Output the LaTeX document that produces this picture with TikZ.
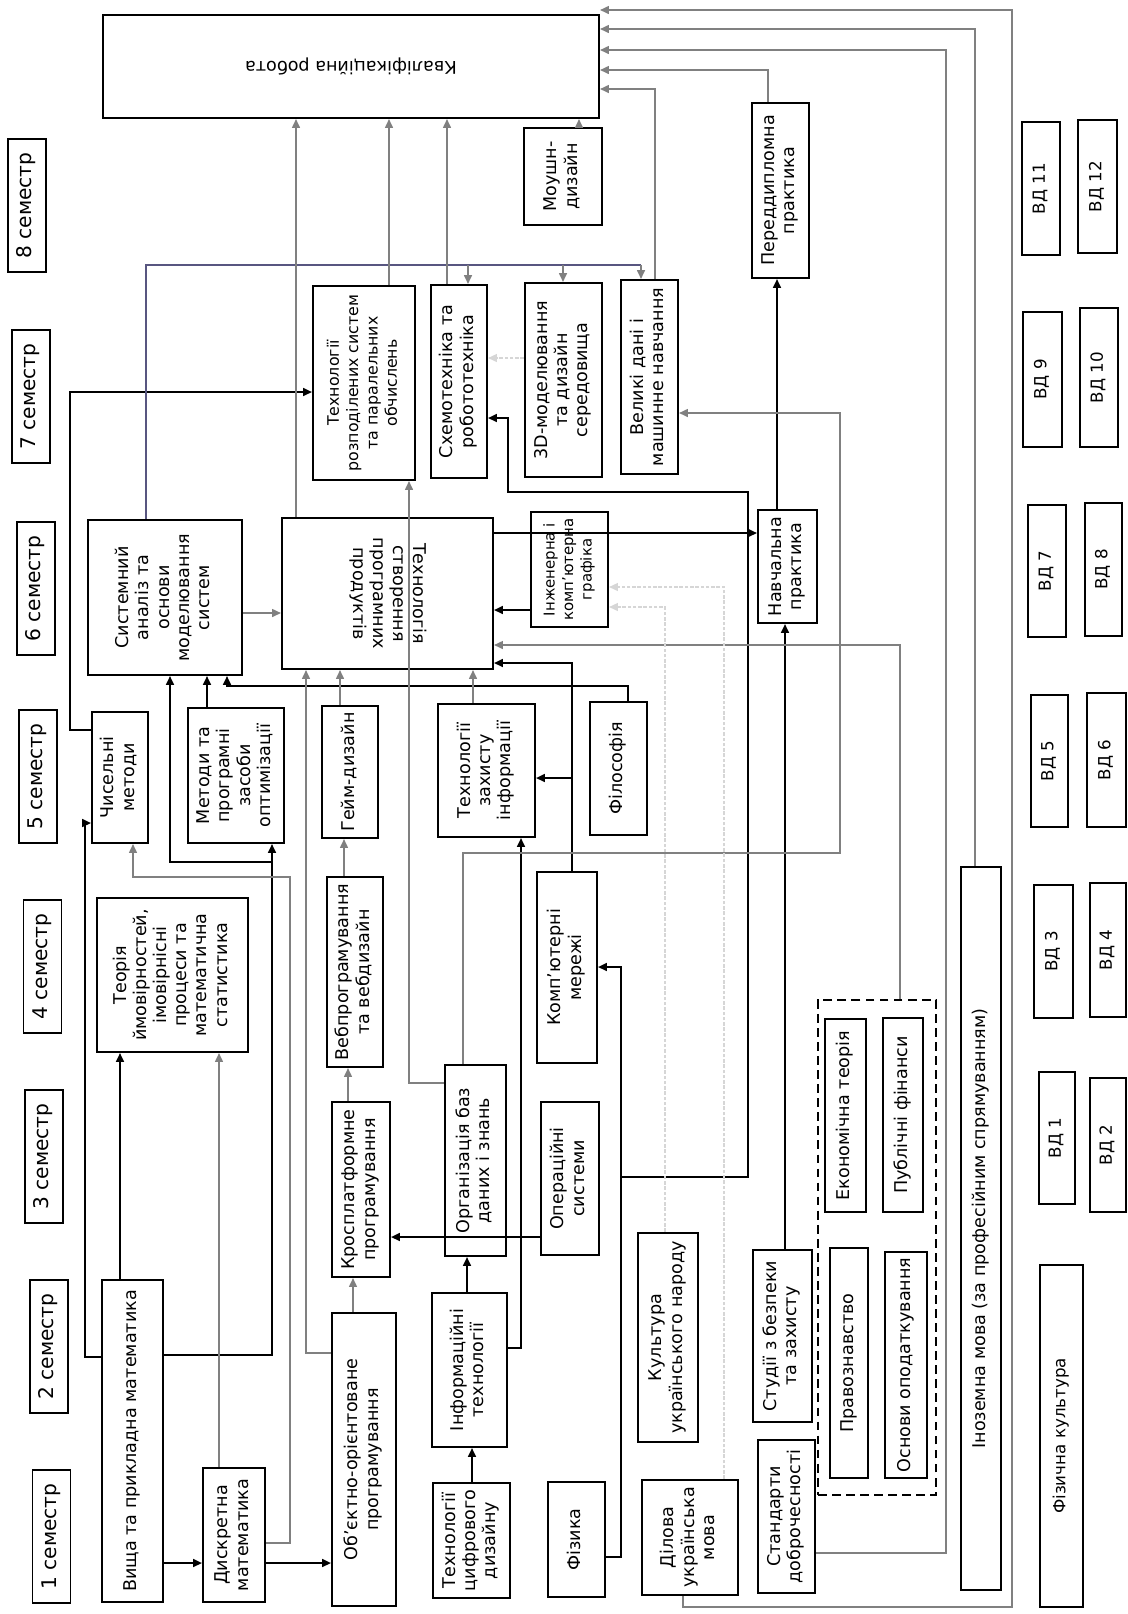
\documentclass[tikz,border=0pt]{standalone}
\usepackage{fontspec}
\setmainfont{DejaVu Sans}
\usepackage{graphicx}
\usetikzlibrary{arrows.meta}

\definecolor{lilac}{RGB}{88,86,128}

\newcommand{\vtext}[1]{\rotatebox{90}{\begin{tabular}{@{}c@{}}#1\end{tabular}}}
\newcommand{\vtextr}[1]{\rotatebox{-90}{\begin{tabular}{@{}c@{}}#1\end{tabular}}}

\begin{document}
\begin{tikzpicture}[
    x=0.02cm, y=0.02cm,
    dims/.style 2 args={minimum width=#1*0.02cm, minimum height=#2*0.02cm},
    box/.style={rectangle, draw, line width=1.2pt, inner sep=0pt, font=\fontsize{10}{11.5}\selectfont},
    small/.style={font=\fontsize{9}{11}\selectfont},
    sem/.style={rectangle, draw, line width=0.9pt, inner sep=0pt, dims={38}{133}, font=\fontsize{11.5}{13}\selectfont},
    vd/.style={rectangle, draw, line width=0.8pt, inner sep=0pt, font=\fontsize{9.5}{11}\selectfont},
    elective/.style={rectangle, draw, dashed, dash pattern=on 5pt off 3pt, line width=1.1pt, inner sep=0pt},
    arrow/.style={line width=1pt, -{Triangle[length=5pt, width=4.5pt]}},
    garrow/.style={draw=black!50, line width=0.8pt, -{Triangle[length=5pt, width=4.5pt]}},
    farrow/.style={draw=black!16, line width=0.7pt, dash pattern=on 2pt off 1pt, -{Triangle[length=5pt, width=4.5pt]}}
]
\useasboundingbox (0,0) rectangle (1128,-1614);

% Semesters
\node[sem] (s1) at (51.5,-1536.5) {\vtext{1 семестр}};
\node[sem] (s2) at (49,-1346.5) {\vtext{2 семестр}};
\node[sem] (s3) at (44,-1156.5) {\vtext{3 семестр}};
\node[sem] (s4) at (42.5,-966.5) {\vtext{4 семестр}};
\node[sem] (s5) at (38,-776.5) {\vtext{5 семестр}};
\node[sem] (s6) at (36,-588.5) {\vtext{6 семестр}};
\node[sem] (s7) at (31,-396.5) {\vtext{7 семестр}};
\node[sem] (s8) at (27,-205.5) {\vtext{8 семестр}};

% Final work and 7--8 semester courses
\node[box, dims={496}{103}] (kval) at (351,-66.5) {\rotatebox{180}{Кваліфікаційна робота}};
\node[box, small, dims={102}{194}] (rozp) at (364,-383) {\vtext{Технології\\розподілених систем\\та паралельних\\обчислень}};
\node[box, dims={56}{193}] (shemo) at (459,-381.5) {\vtext{Схемотехніка та\\робототехніка}};
\node[box, dims={77}{194}] (modl) at (563.5,-380) {\vtext{3D-моделювання\\та дизайн\\середовища}};
\node[box, dims={57}{194}] (bigdata) at (649.5,-377) {\vtext{Великі дані і\\машинне навчання}};
\node[box, dims={78}{97}] (moush) at (563,-176.5) {\vtext{Моушн-\\дизайн}};
\node[box, dims={57}{175}] (pered) at (780.5,-190.5) {\vtext{Переддипломна\\практика}};

% 5--6 semester courses
\node[box, dims={154}{155}] (sysan) at (165,-597.5) {\vtext{Системний\\аналіз та\\основи\\моделювання\\систем}};
\node[box, dims={211}{151}] (tsp) at (387.5,-593.5) {\vtextr{Технологія\\створення\\програмних\\продуктів}};
\node[box, font=\fontsize{8.5}{10.5}\selectfont, dims={77}{115}] (ingraf) at (569.5,-569.5) {\vtext{Інженерна і\\комп’ютерна\\графіка}};
\node[box, dims={59}{113}] (navch) at (787.5,-566.5) {\vtext{Навчальна\\практика}};
\node[box, dims={56}{131}] (chys) at (120,-777.5) {\vtext{Чисельні\\методи}};
\node[box, dims={96}{135}] (metod) at (236,-775.5) {\vtext{Методи та\\програмні\\засоби\\оптимізації}};
\node[box, dims={56}{132}] (gamed) at (350,-772) {\vtext{Гейм-дизайн}};
\node[box, dims={97}{133}] (zahyst) at (486.5,-770.5) {\vtext{Технології\\захисту\\інформації}};
\node[box, dims={57}{133}] (filos) at (618.5,-768.5) {\vtext{Філософія}};

% 3--4 semester courses
\node[box, dims={151}{154}] (teor) at (172.5,-975) {\vtext{Теорія\\ймовірностей,\\імовірнісні\\процеси та\\математична\\статистика}};
\node[box, dims={56}{190}] (veb) at (355,-972) {\vtext{Вебпрограмування\\та вебдизайн}};
\node[box, dims={60}{191}] (mereji) at (567,-967.5) {\vtext{Комп’ютерні\\мережі}};
\node[box, dims={58}{175}] (kros) at (361,-1189.5) {\vtext{Кросплатформне\\програмування}};
\node[box, dims={61}{191}] (orgbd) at (475.5,-1160.5) {\vtext{Організація баз\\даних і знань}};
\node[box, dims={58}{153}] (opsys) at (570,-1178.5) {\vtext{Операційні\\системи}};

% 1--2 semester courses
\node[box, dims={61}{322}] (visch) at (132.5,-1441) {\vtext{Вища та прикладна математика}};
\node[box, dims={62}{134}] (dyskr) at (234,-1535) {\vtext{Дискретна\\математика}};
\node[box, dims={64}{293}] (oop) at (364,-1459.5) {\vtext{Об’єктно-орієнтоване\\програмування}};
\node[box, dims={75}{154}] (inft) at (469.5,-1370) {\vtext{Інформаційні\\технології}};
\node[box, dims={77}{115}] (tsd) at (471.5,-1540.5) {\vtext{Технології\\цифрового\\дизайну}};
\node[box, dims={57}{115}] (fizyka) at (576.5,-1539.5) {\vtext{Фізика}};
\node[box, dims={60}{209}] (kultura) at (668,-1337.5) {\vtext{Культура\\українського народу}};
\node[box, dims={96}{115}] (dilova) at (690,-1537.5) {\vtext{Ділова\\українська\\мова}};
\node[box, dims={59}{172}] (studii) at (782.5,-1336) {\vtext{Студії з безпеки\\та захисту}};
\node[box, dims={57}{153}] (standart) at (786.5,-1516.5) {\vtext{Стандарти\\доброчесності}};

% Elective block and languages
\node[elective, dims={118}{495}] (group) at (877,-1247.5) {};
\node[box, dims={41}{193}] (ekon) at (845.5,-1115.5) {\vtext{Економічна теорія}};
\node[box, dims={40}{194}] (publ) at (903,-1115) {\vtext{Публічні фінанси}};
\node[box, dims={38}{230}] (pravo) at (849,-1363) {\vtext{Правознавство}};
\node[box, dims={42}{226}] (podat) at (906,-1365) {\vtext{Основи оподаткування}};
\node[box, dims={40}{723}] (inoz) at (981,-1228.5) {\vtext{Іноземна мова (за професійним спрямуванням)}};

% Free-choice courses
\node[vd, dims={38}{133}] (vd11) at (1041,-188.5) {\vtext{ВД 11}};
\node[vd, dims={39}{133}] (vd12) at (1097.5,-186.5) {\vtext{ВД 12}};
\node[vd, dims={39}{135}] (vd9) at (1042.5,-379.5) {\vtext{ВД 9}};
\node[vd, dims={38}{139}] (vd10) at (1099,-377.5) {\vtext{ВД 10}};
\node[vd, dims={38}{132}] (vd7) at (1047,-571) {\vtext{ВД 7}};
\node[vd, dims={37}{133}] (vd8) at (1103.5,-569.5) {\vtext{ВД 8}};
\node[vd, dims={37}{132}] (vd5) at (1049.5,-761) {\vtext{ВД 5}};
\node[vd, dims={39}{134}] (vd6) at (1106.5,-760) {\vtext{ВД 6}};
\node[vd, dims={39}{133}] (vd3) at (1053.5,-951.5) {\vtext{ВД 3}};
\node[vd, dims={36}{134}] (vd4) at (1108,-950) {\vtext{ВД 4}};
\node[vd, dims={36}{132}] (vd1) at (1057,-1138) {\vtext{ВД 1}};
\node[vd, dims={36}{134}] (vd2) at (1108,-1145) {\vtext{ВД 2}};
\node[vd, dims={43}{342}] (fizkult) at (1061.5,-1436) {\vtext{Фізична культура}};

% Arrows: direct prerequisites
\draw[arrow] (visch.east |- 0,-1563) -- (dyskr.west |- 0,-1563);
\draw[arrow] (dyskr.east |- 0,-1563) -- (oop.west |- 0,-1563);
\draw[arrow] (visch.north -| 120,0) -- (teor.south -| 120,0);
\draw[arrow] (visch.west |- 0,-1357) -| (85,-823) -- (chys.west |- 0,-823);
\draw[arrow] (visch.east |- 0,-1355) -| (272,0 |- metod.south);
\draw[arrow] (272,-862) -| (170,0 |- sysan.south);
\draw[arrow] (metod.north -| 207,0) -- (sysan.south -| 207,0);
\draw[arrow] (chys.west |- 0,-730) -| (70,-392) -- (rozp.west |- 0,-392);
\draw[arrow] (filos.north -| 628,0) |- (227,-686) -- (sysan.south -| 227,0);
\draw[arrow] (mereji.north -| 572,0) |- (tsp.east |- 0,-663);
\draw[arrow] (572,-778) -- (zahyst.east |- 0,-778);
\draw[arrow] (inft.east |- 0,-1348) -| (521,0 |- zahyst.south);
\draw[arrow] (tsd.north -| 472,0) -- (inft.south -| 472,0);
\draw[arrow] (inft.north -| 467,0) -- (orgbd.south -| 467,0);
\draw[arrow] (opsys.west |- 0,-1237) -- (kros.east |- 0,-1237);
\draw[arrow] (fizyka.east |- 0,-1557) -| (621,-967) -- (mereji.east |- 0,-967);
\draw[arrow] (621,-1177) -| (748,-492) -| (508,-418) -- (shemo.east |- 0,-418);
\draw[arrow] (tsp.east |- 0,-533) -- (navch.west |- 0,-533);
\draw[arrow] (ingraf.west |- 0,-610) -- (tsp.east |- 0,-610);
\draw[arrow] (studii.north -| 785,0) -- (navch.south -| 785,0);
\draw[arrow] (navch.north -| 777,0) -- (pered.south -| 777,0);

% Arrows: supporting links
\draw[garrow] (sysan.east |- 0,-613) -- (tsp.west |- 0,-613);
\draw[garrow] (gamed.north -| 340,0) -- (tsp.south -| 340,0);
\draw[garrow] (veb.north -| 344,0) -- (gamed.south -| 344,0);
\draw[garrow] (kros.north -| 348,0) -- (veb.south -| 348,0);
\draw[garrow] (oop.north -| 353,0) -- (kros.south -| 353,0);
\draw[garrow] (oop.west |- 0,-1353) -| (306,0 |- tsp.south);
\draw[garrow] (zahyst.north -| 473,0) -- (tsp.south -| 473,0);
\draw[garrow] (dyskr.north -| 219,0) -- (teor.south -| 219,0);
\draw[garrow] (dyskr.east |- 0,-1543) -| (290,-877) -| (133,0 |- chys.south);
\draw[garrow] (orgbd.west |- 0,-1083) -| (409,0 |- rozp.south);
\draw[garrow] (orgbd.north -| 463,0) |- (840,-853) |- (bigdata.east |- 0,-413);
\draw[garrow] (group.north -| 900,0) |- (tsp.east |- 0,-645);

% Faint links
\draw[farrow] (kultura.north -| 665,0) |- (ingraf.east |- 0,-607);
\draw[farrow] (dilova.north -| 724,0) |- (ingraf.east |- 0,-587);
\draw[farrow] (modl.west |- 0,-358) -- (shemo.east |- 0,-358);

% System analysis feeds the 7th semester
\draw[lilac, line width=1pt] (sysan.north -| 146,0) |- (641,-265);
\draw[garrow] (468,-265) -- (shemo.north -| 468,0);
\draw[garrow] (563,-265) -- (modl.north -| 563,0);
\draw[garrow] (641,-265) -- (bigdata.north -| 641,0);

% Into the qualification work
\draw[garrow] (tsp.north -| 296,0) -- (kval.south -| 296,0);
\draw[garrow] (rozp.north -| 389,0) -- (kval.south -| 389,0);
\draw[garrow] (shemo.north -| 447,0) -- (kval.south -| 447,0);
\draw[garrow] (moush.north -| 579,0) -- (kval.south -| 579,0);
\draw[garrow] (bigdata.north -| 655,0) |- (kval.east |- 0,-89);
\draw[garrow] (pered.north -| 768,0) |- (kval.east |- 0,-70);
\draw[garrow] (standart.east |- 0,-1553) -| (946,-50) -- (kval.east |- 0,-50);
\draw[garrow] (inoz.north -| 975,0) |- (kval.east |- 0,-29);
\draw[garrow] (dilova.south -| 683,0) |- (1012,-1607) |- (kval.east |- 0,-10);

\end{tikzpicture}
\end{document}
